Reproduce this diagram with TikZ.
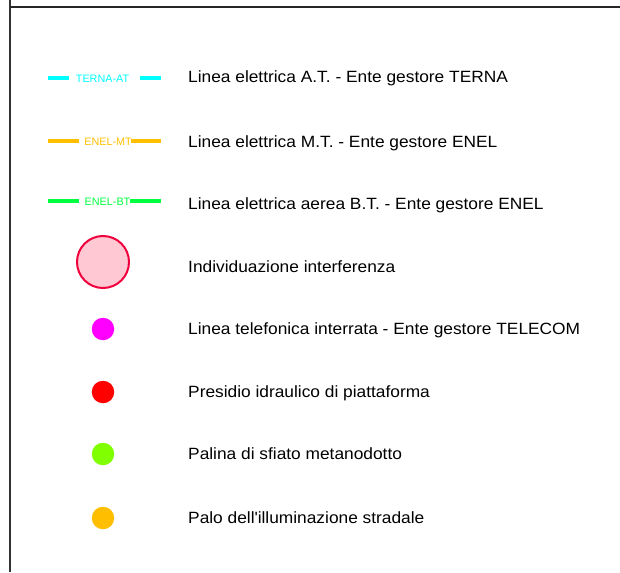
\documentclass[tikz,border=0pt]{standalone}
\usepackage{fontspec}
\setmainfont{Liberation Sans}
\newfontfamily\legfont[FakeStretch=1.063]{Liberation Sans}
\definecolor{cyanL}{RGB}{0,255,255}
\definecolor{orangeL}{RGB}{255,191,0}
\definecolor{greenL}{RGB}{0,255,63}
\definecolor{pinkF}{RGB}{255,200,210}
\definecolor{crimsonB}{RGB}{240,0,60}
\definecolor{magentaD}{RGB}{255,0,255}
\definecolor{redD}{RGB}{255,0,0}
\definecolor{limeD}{RGB}{127,255,0}
\definecolor{orangeD}{RGB}{255,191,0}
\begin{document}
\begin{tikzpicture}[x=1pt,y=-1pt,
  legtext/.style={anchor=base west,inner sep=0pt,font=\legfont\fontsize{16.3}{18}\selectfont},
  linelabel/.style={inner sep=0pt,font=\fontsize{10.8}{12}\selectfont},
  seg/.style={line width=3.4pt},
  dot/.style={circle,minimum size=22.5pt,inner sep=0pt}]
\useasboundingbox (0,0) rectangle (620,572);
\draw[line width=1.6pt,black!80] (10,0) -- (10,572);
\draw[line width=1.6pt,black!85] (10,7) -- (620,7);
% row 1
\node[linelabel,text=cyanL] (l1) at (102.5,78.5) {TERNA-AT};
\coordinate (a1) at (48,78); \coordinate (b1) at (69,78);
\coordinate (c1) at (140,78); \coordinate (d1) at (161,78);
\draw[seg,cyanL] (a1) -- (b1); \draw[seg,cyanL] (c1) -- (d1);
\node[legtext] (t1) at (188,83) {Linea elettrica A.T. - Ente gestore TERNA};
% row 2
\node[linelabel,text=orangeL] (l2) at (108,141.5) {ENEL-MT};
\coordinate (a2) at (48,141); \coordinate (b2) at (79,141);
\coordinate (c2) at (131,141); \coordinate (d2) at (161,141);
\draw[seg,orangeL] (a2) -- (b2); \draw[seg,orangeL] (c2) -- (d2);
\node[legtext] (t2) at (188,147) {Linea elettrica M.T. - Ente gestore ENEL};
% row 3
\node[linelabel,text=greenL] (l3) at (107.5,201.5) {ENEL-BT};
\coordinate (a3) at (48,201); \coordinate (b3) at (79,201);
\coordinate (c3) at (130,201); \coordinate (d3) at (161,201);
\draw[seg,greenL] (a3) -- (b3); \draw[seg,greenL] (c3) -- (d3);
\node[legtext] (t3) at (188,209) {Linea elettrica aerea B.T. - Ente gestore ENEL};
% row 4
\node[circle,minimum size=52pt,inner sep=0pt,fill=pinkF,draw=crimsonB,line width=2pt] (s4) at (103,262) {};
\node[legtext] (t4) at (188,272) {Individuazione interferenza};
% rows 5-8
\node[dot,fill=magentaD] (s5) at (103,329) {};
\node[legtext] (t5) at (188,334) {Linea telefonica interrata - Ente gestore TELECOM};
\node[dot,fill=redD] (s6) at (103,392) {};
\node[legtext] (t6) at (188,397) {Presidio idraulico di piattaforma};
\node[dot,fill=limeD] (s7) at (103,454) {};
\node[legtext] (t7) at (188,459) {Palina di sfiato metanodotto};
\node[dot,fill=orangeD] (s8) at (103,518) {};
\node[legtext] (t8) at (188,523) {Palo dell\textquotesingle illuminazione stradale};
\end{tikzpicture}
\end{document}
